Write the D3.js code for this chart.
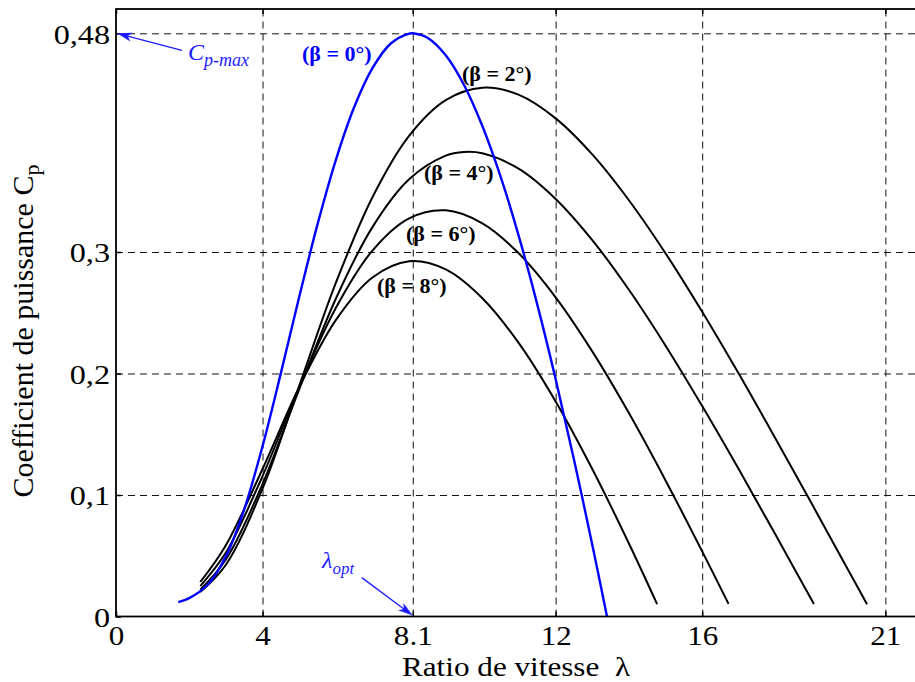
<!DOCTYPE html>
<html><head><meta charset="utf-8">
<script src="https://cdn.jsdelivr.net/npm/d3@7"></script>
<style>
body{margin:0;background:#fff}
svg{display:block}
text{font-family:"Liberation Serif","Times New Roman",serif}
</style>
</head><body>
<svg id="c" width="915" height="682"></svg>
<script>
// ---- tick labels ----
const xTicks = [0, 4, 8.1, 12, 16, 21];
const xTickLabels = ["0", "4", "8.1", "12", "16", "21"];
const yTicks = [0, 0.1, 0.2, 0.3, 0.48];
const yTickLabels = ["0", "0,1", "0,2", "0,3", "0,48"];
const xGrid = [4, 8.1, 12, 16, 21];
const yGrid = [0.1, 0.2, 0.3, 0.48];

// ---- series (lambda, Cp) ----
const lambdaB0 = [1.7,2,2.5,3,3.5,4,4.5,5,5.5,6,6.5,7,7.5,8,8.1,8.5,9,9.5,10,10.5,11,11.5,12,12.5,13,13.4];
const cpB0     = [0.0118,0.0151,0.0261,0.0495,0.0882,0.1402,0.2003,0.2629,0.3227,0.3757,0.4191,0.4513,0.4716,0.4798,0.4800,0.4764,0.4620,0.4375,0.4037,0.3618,0.3125,0.2567,0.1954,0.1293,0.0590,0.0003];

const lambdaB2 = [2.3,3,4,5,6,7,8,9,10,11,12,13,14,15,16,17,18,19,20,20.5];
const cpB2     = [0.0201,0.0426,0.1052,0.1897,0.2745,0.3451,0.3956,0.4250,0.4352,0.4293,0.4100,0.3803,0.3426,0.2989,0.2508,0.1997,0.1465,0.0923,0.0375,0.0101];

const lambdaB4 = [2.3,3,4,5,6,7,8,9,9.5,10,11,12,13,14,15,16,17,18,19.05];
const cpB4     = [0.0221,0.0469,0.1090,0.1870,0.2615,0.3205,0.3598,0.3793,0.3823,0.3812,0.3684,0.3437,0.3098,0.2689,0.2229,0.1732,0.1211,0.0674,0.0103];

const lambdaB6 = [2.3,3,4,5,6,7,8,9,10,11,12,13,14,15,16,16.72];
const cpB6     = [0.0250,0.0526,0.1156,0.1887,0.2539,0.3012,0.3277,0.3343,0.3236,0.2987,0.2627,0.2182,0.1674,0.1120,0.0536,0.0104];

const lambdaB8 = [2.3,3,4,5,6,7,8,9,10,11,12,13,14,14.77];
const cpB8     = [0.0284,0.0587,0.1214,0.1887,0.2439,0.2790,0.2924,0.2857,0.2620,0.2248,0.1770,0.1214,0.0601,0.0102];

const seriesNames = ["(β = 0°)", "(β = 2°)", "(β = 4°)", "(β = 6°)", "(β = 8°)"];

// ---- layout ----
const svg = d3.select("#c");
const x = d3.scaleLinear().domain([0, 22]).range([116, 922]);
const y = d3.scaleLinear().domain([0, 0.5]).range([616.5, 9]);
const BLUE = "#0000ff";
const ANN = "#1c1cff";

const series = [
  {name: seriesNames[0], pts: d3.zip(lambdaB0, cpB0), color: BLUE, w: 2.4, lx: 302, ly: 53},
  {name: seriesNames[1], pts: d3.zip(lambdaB2, cpB2), color: "#000", w: 2, lx: 462, ly: 73},
  {name: seriesNames[2], pts: d3.zip(lambdaB4, cpB4), color: "#000", w: 2, lx: 424, ly: 172},
  {name: seriesNames[3], pts: d3.zip(lambdaB6, cpB6), color: "#000", w: 2, lx: 406, ly: 233},
  {name: seriesNames[4], pts: d3.zip(lambdaB8, cpB8), color: "#000", w: 2, lx: 377, ly: 285}
];

// grid
const grid = svg.append("g").attr("stroke", "#111").attr("stroke-width", 1).attr("stroke-dasharray", "7,5");
grid.selectAll("line.v").data(xGrid).join("line").attr("class","v")
  .attr("x1", d => x(d) + 0.5).attr("x2", d => x(d) + 0.5)
  .attr("y1", y(0)).attr("y2", y(0.5));
grid.selectAll("line.h").data(yGrid).join("line").attr("class","h")
  .attr("x1", x(0)).attr("x2", x(22))
  .attr("y1", d => y(d) + 0.5).attr("y2", d => y(d) + 0.5);

// curves
const line = d3.line().x(d => x(d[0])).y(d => y(d[1])).curve(d3.curveCatmullRom.alpha(0.5));
const order = [1,2,3,4,0];
svg.append("g").selectAll("path").data(order.map(i => series[i])).join("path")
  .attr("d", d => line(d.pts)).attr("fill", "none")
  .attr("stroke", d => d.color).attr("stroke-width", d => d.w)
  .attr("stroke-linejoin", "round").attr("stroke-linecap", "butt");

// frame
svg.append("rect").attr("x", x(0)).attr("y", y(0.5))
  .attr("width", x(22) - x(0)).attr("height", y(0) - y(0.5))
  .attr("fill", "none").attr("stroke", "#000").attr("stroke-width", 1.8);

// axes
const XS = 1.15;
const gb = svg.append("g").attr("transform", `translate(0,${y(0)})`)
  .call(d3.axisBottom(x).tickValues(xTicks).tickFormat((d, i) => xTickLabels[i]).tickSizeInner(-5).tickSizeOuter(0));
gb.select(".domain").remove();
gb.attr("font-family", null).attr("font-size", null);
gb.selectAll(".tick line").attr("stroke-width", 1.5);
gb.selectAll("text").attr("y", 28.5).attr("dy", 0).attr("font-size", 27).attr("fill", "#000")
  .attr("transform", `scale(${XS},1)`);

const gt = svg.append("g").attr("transform", `translate(0,${y(0.5)})`)
  .call(d3.axisTop(x).tickValues(xTicks).tickFormat("").tickSizeInner(-5).tickSizeOuter(0));
gt.select(".domain").remove();
gt.selectAll(".tick line").attr("stroke-width", 1.5);

const gl = svg.append("g").attr("transform", `translate(${x(0)},0)`)
  .call(d3.axisLeft(y).tickValues(yTicks).tickFormat((d, i) => yTickLabels[i]).tickSizeInner(-5).tickSizeOuter(0));
gl.select(".domain").remove();
gl.attr("font-family", null).attr("font-size", null);
gl.selectAll(".tick line").attr("stroke-width", 1.5);
gl.selectAll("text").attr("x", -6 / XS).attr("dy", "0.35em").attr("font-size", 28).attr("fill", "#000")
  .attr("transform", `scale(${XS},1)`);

// axis titles
svg.append("text").attr("x", 402).attr("y", 675.5).attr("text-anchor", "start")
  .attr("font-size", 27).attr("fill", "#000").style("white-space", "pre")
  .attr("textLength", 228).attr("lengthAdjust", "spacingAndGlyphs")
  .text("Ratio de vitesse  λ");

const yl = svg.append("text").attr("transform", "translate(33,331) rotate(-90)")
  .attr("text-anchor", "middle").attr("font-size", 30).attr("fill", "#000");
yl.append("tspan").text("Coefficient de puissance C");
yl.append("tspan").attr("font-size", 22).attr("dy", 6).text("p");

// curve labels
svg.append("g").selectAll("text").data(series).join("text")
  .attr("x", d => d.lx).attr("y", d => d.ly).attr("dy", "0.35em")
  .attr("font-size", 22).attr("font-weight", "bold")
  .attr("fill", d => d.color === BLUE ? BLUE : "#000")
  .text(d => d.name);

// annotations: arrows
function arrow(x1, y1, x2, y2) {
  const ang = Math.atan2(y2 - y1, x2 - x1);
  const L = 15, Wd = 4.5, back = 11;
  const ca = Math.cos(ang), sa = Math.sin(ang);
  const bx = x2 - L * ca, by = y2 - L * sa;
  const nx = x2 - back * ca, ny = y2 - back * sa;
  svg.append("line").attr("x1", x1).attr("y1", y1).attr("x2", nx).attr("y2", ny)
    .attr("stroke", ANN).attr("stroke-width", 1.3);
  svg.append("path")
    .attr("d", `M${x2},${y2}L${bx - Wd * sa},${by + Wd * ca}L${nx},${ny}L${bx + Wd * sa},${by - Wd * ca}Z`)
    .attr("fill", ANN);
}
arrow(x(1.8), y(0.466), x(0) + 1, y(0.48));
arrow(x(6.71), y(0.032), x(8.1), y(0) - 1);

const cpm = svg.append("text").attr("x", 188).attr("y", 60).attr("fill", ANN)
  .attr("font-style", "italic").attr("font-size", 24);
cpm.append("tspan").text("C");
cpm.append("tspan").attr("font-size", 18).attr("dy", 6).text("p-max");

const lo = svg.append("text").attr("x", 322).attr("y", 568).attr("fill", ANN)
  .attr("font-style", "italic").attr("font-size", 24);
lo.append("tspan").text("λ");
lo.append("tspan").attr("font-size", 17).attr("dy", 6).text("opt");
</script>
</body></html>
